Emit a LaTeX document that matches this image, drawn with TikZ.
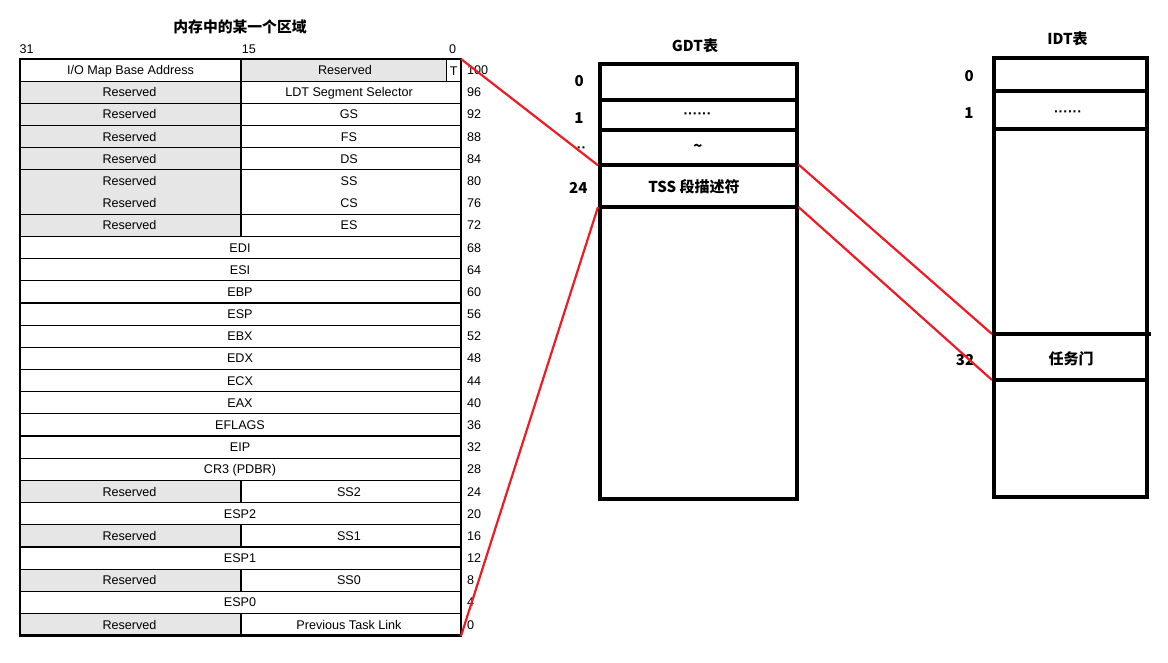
\documentclass[tikz,border=0pt]{standalone}
\usepackage{fontspec}
\setmainfont{Liberation Sans}
\newfontfamily\cjk{Noto Sans CJK SC}
\definecolor{cellgray}{HTML}{E6E6E6}
\definecolor{lnred}{HTML}{ED1C24}
\begin{document}
\begin{tikzpicture}[x=1pt,y=-1pt,
  tbl/.style={font=\fontsize{12.6}{14}\selectfont, inner sep=0pt, text height=9pt, text depth=0pt},
  num/.style={tbl, anchor=west},
  hdr/.style={font=\cjk\bfseries\fontsize{15}{17}\selectfont, inner sep=0pt},
  dotlbl/.style={font=\bfseries\fontsize{14}{16}\selectfont, inner sep=0pt},
  gridline/.style={line width=1.2pt},
  outerline/.style={line width=2.8pt},
  boxline/.style={line width=4pt},
  redline/.style={draw=lnred, line width=2.2pt}]
\useasboundingbox (0,0) rectangle (1168,663);
\def\rh{22.18}
% ---- memory TSS table ----
\foreach \i in {1,2,3,4,5,6,7,19,21,23,25}
  \fill[cellgray] (20,{59+\i*\rh}) rectangle (241,{59+(\i+1)*\rh});
\fill[cellgray] (241,59) rectangle (446.7,{59+\rh});
\foreach \i in {1,2,3,4,5,7,8,...,25}
  \draw[gridline] (20,{59+\i*\rh}) -- (461,{59+\i*\rh});
\draw[gridline] (241,59) -- (241,{59+8*\rh});
\foreach \i in {19,21,23,25}
  \draw[gridline] (241,{59+\i*\rh}) -- (241,{59+(\i+1)*\rh});
\draw[gridline] (446.7,59) -- (446.7,{59+\rh});
\draw[outerline] (20,59) rectangle (461,{59+26*\rh});
% texts
\node[tbl] (io) at (130.5,70.1) {I/O Map Base Address};
\node[tbl] (res0) at (345,69.6) {Reserved};
\node[tbl] (tflag) at (453.8,70.6) {T};
\foreach \i/\txt in {1/LDT Segment Selector,2/GS,3/FS,4/DS,5/SS,6/CS,7/ES,19/SS2,21/SS1,23/SS0,25/Previous Task Link} {
  \node[tbl] (L\i) at (129.5,{59+(\i+0.5)*\rh}) {Reserved};
  \node[tbl] (R\i) at (349,{59+(\i+0.5)*\rh}) {\txt};
}
\foreach \i/\txt in {8/EDI,9/ESI,10/EBP,11/ESP,12/EBX,13/EDX,14/ECX,15/EAX,16/EFLAGS,17/EIP,18/{CR3 (PDBR)},20/ESP2,22/ESP1,24/ESP0}
  \node[tbl] (F\i) at (240,{59+(\i+0.5)*\rh}) {\txt};
\foreach \i in {0,...,25} {
  \pgfmathtruncatemacro\n{100-4*\i}
  \node[num] (N\i) at (467,{59+(\i+0.5)*\rh}) {\n};
}
\node[tbl] (b31) at (26.7,49) {31};
\node[tbl] (b15) at (249,49) {15};
\node[tbl] (b0) at (452.7,49) {0};
\node[hdr, font=\cjk\bfseries\fontsize{14.8}{17}\selectfont] (title) at (240,27) {内存中的某一个区域};
% ---- GDT ----
\node[hdr] (gdtT) at (695,46) {GDT表};
\draw[boxline] (599.7,63.7) rectangle (797,499);
\foreach \y in {100,130.3,165.3,207}
  \draw[boxline] (599.7,\y) -- (797,\y);
\node[hdr] (g0) at (579.3,80.7) {0};
\node[hdr] (g1) at (579,118.5) {1};
\node[dotlbl] (g2) at (581.5,149.5) {··};
\node[hdr] (g24) at (578.3,187.5) {24};
\node[dotlbl] (gdots) at (697.5,116) {······};
\node[hdr] (gtilde) at (698,148) {\char`\~};
\node[hdr] (gtss) at (694,186.5) {TSS 段描述符};
% ---- IDT ----
\node[hdr] (idtT) at (1067.5,39) {IDT表};
\draw[boxline] (993.7,57.7) rectangle (1147,497);
\foreach \y in {91,129.3,379.7}
  \draw[boxline] (993.7,\y) -- (1147,\y);
\draw[boxline] (993.7,334.3) -- (1150.7,334.3);
\node[hdr] (i0) at (969.3,75.7) {0};
\node[hdr] (i1) at (969,112.7) {1};
\node[dotlbl] (idots) at (1068,113.5) {······};
\node[hdr] (i32) at (965,360) {32};
\node[hdr] (igate) at (1071,358.5) {任务门};
% ---- red connectors ----
\coordinate (memTR) at (461,59);
\coordinate (memBR) at (461,636);
\coordinate (gdtA) at (598,165.3);
\coordinate (gdtB) at (598,207);
\coordinate (gdtC) at (798.5,164.5);
\coordinate (gdtD) at (798.5,207);
\coordinate (idtA) at (992,334);
\coordinate (idtB) at (992,380);
\draw[redline] (memTR) -- (gdtA);
\draw[redline] (memBR) -- (gdtB);
\draw[redline] (gdtC) -- (idtA);
\draw[redline] (gdtD) -- (idtB);
\end{tikzpicture}
\end{document}
